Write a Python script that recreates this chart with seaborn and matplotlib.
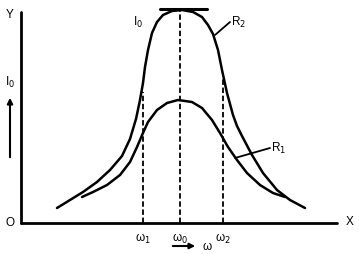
import numpy as np
import pandas as pd
import matplotlib
matplotlib.use("Agg")
import matplotlib.pyplot as plt
import seaborn as sns

# curve points (omega, current), origin at the O corner
r2_w = [36, 49, 62, 76, 89, 101, 109, 115, 119, 122, 124, 127, 131, 136, 142, 151, 161,
        172, 181, 187, 192, 197, 201, 206, 212, 216, 221, 231, 242, 256, 269, 284]
r2_i = [15, 23, 31, 41, 53, 67, 84, 104, 123, 140, 156, 173, 190, 201, 208, 212, 213,
        211, 206, 198, 189, 173, 153, 130, 108, 97, 87, 68, 50, 33, 23, 15]
r1_w = [61, 72, 86, 99, 109, 116, 122, 127, 136, 146, 157, 171, 181, 191, 199, 207, 216,
        226, 239, 252, 264]
r1_i = [26, 31, 38, 48, 61, 76, 90, 101, 113, 120, 123, 121, 115, 103, 90, 76, 63,
        50, 38, 30, 26]

w_marks = [122, 159, 202]          # omega1, omega0, omega2
w_labels = [r"ω$_1$", r"ω$_0$", r"ω$_2$"]
w_tops = [131, 214, 146]
peak_i = 214

df = pd.concat([
    pd.DataFrame({"w": r2_w, "i": r2_i, "R": "R2"}),
    pd.DataFrame({"w": r1_w, "i": r1_i, "R": "R1"}),
])

sns.set_style("white")
plt.rcParams["font.family"] = ["Liberation Sans", "DejaVu Sans"]
plt.rcParams["text.color"] = "black"

fig = plt.figure(figsize=(3.59, 2.54), dpi=100)
ax = fig.add_axes([0, 0, 1, 1])
sns.lineplot(data=df, x="w", y="i", units="R", estimator=None, sort=False,
             color="black", lw=1.8, ax=ax, legend=False)
for ln in ax.lines:
    ln.set_solid_joinstyle("round")

# axes
ax.plot([0, 0], [0, 211], color="black", lw=2)
ax.plot([0, 316], [0, 0], color="black", lw=2)

# dashed verticals
for w, top in zip(w_marks, w_tops):
    ax.plot([w, w], [0, top], color="black", lw=1.3, ls=(0, (3, 1.5)))
ax.plot([139, 186], [peak_i, peak_i], color="black", lw=2.2)

# leader lines
ax.plot([194, 209], [188, 201], color="black", lw=1.3)
ax.plot([214, 249], [65, 75], color="black", lw=1.3)

fs = 8.5
ax.text(-11, 208, "Y", fontsize=fs, ha="center", va="center")
ax.text(329, 1, "X", fontsize=fs, ha="center", va="center")
ax.text(-11, 0, "O", fontsize=fs, ha="center", va="center")
ax.text(-11, 141, r"I$_0$", fontsize=fs, ha="center", va="center")
ax.text(117, 201, r"I$_0$", fontsize=fs, ha="center", va="center")
ax.text(218, 201, r"R$_2$", fontsize=fs, ha="center", va="center")
ax.text(258, 75, r"R$_1$", fontsize=fs, ha="center", va="center")
for w, lab in zip(w_marks, w_labels):
    ax.text(w, -16, lab, fontsize=fs, ha="center", va="center")
ax.text(186, -24, "ω", fontsize=fs, ha="center", va="center")

ax.annotate("", xy=(177, -23), xytext=(149, -23),
            arrowprops=dict(arrowstyle="-|>", color="black", lw=1.5, mutation_scale=8))
ax.annotate("", xy=(-11, 128), xytext=(-11, 63),
            arrowprops=dict(arrowstyle="-|>", color="black", lw=1.5, mutation_scale=8))

ax.set_xlim(-21, 338)
ax.set_ylim(-31, 223)
ax.axis("off")
fig.savefig("out.png", dpi=100)
